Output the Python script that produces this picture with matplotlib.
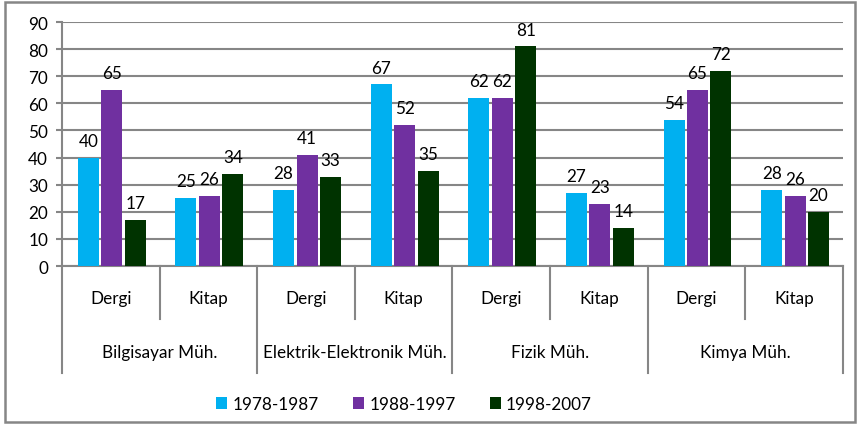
import numpy as np
import matplotlib
matplotlib.use('Agg')
import matplotlib.pyplot as plt
from matplotlib.patches import Rectangle
from matplotlib import transforms

plt.rcParams['font.family'] = ['Lato', 'DejaVu Sans']

# veriler
bolumler = ['Bilgisayar Müh.', 'Elektrik-Elektronik Müh.', 'Fizik Müh.', 'Kimya Müh.']
turler = ['Dergi', 'Kitap']
donemler = ['1978-1987', '1988-1997', '1998-2007']
v_1978 = [40, 25, 28, 67, 62, 27, 54, 28]
v_1988 = [65, 26, 41, 52, 62, 23, 65, 26]
v_1998 = [17, 34, 33, 35, 81, 14, 72, 20]
renkler = ['#00B0F0', '#7030A0', '#003300']

fs = 12.3
fig = plt.figure(figsize=(8.68, 4.27), dpi=100)
ax = fig.add_axes([62/868, 1-267/427, (843-62)/868, (267-23)/427])

x = np.arange(len(v_1978)) + 0.5
w = 0.215
off = [-0.24, 0, 0.24]
for seri, o, r, ad in zip([v_1978, v_1988, v_1998], off, renkler, donemler):
    bars = ax.bar(x + o + 0.01, seri, width=w, color=r, label=ad, zorder=3)
    for b, v in zip(bars, seri):
        ax.annotate(str(v), (b.get_x() + b.get_width()/2, v), xytext=(0, 8.5),
                    textcoords='offset points', ha='center', va='baseline',
                    fontsize=fs, color='#000000')

gri = '#868686'
ax.set_xlim(0, 8)
ax.set_ylim(0, 90)
ax.set_yticks(range(0, 91, 10))
ax.tick_params(axis='y', length=4, width=1.5, color=gri, labelsize=fs, pad=6)
ax.yaxis.grid(True, color=gri, linewidth=1.5, zorder=0)
ax.set_xticks([])
for s in ['top', 'right']:
    ax.spines[s].set_visible(False)
for s in ['left', 'bottom']:
    ax.spines[s].set_color(gri)
    ax.spines[s].set_linewidth(1.5)

# çok seviyeli kategori ekseni
tr = transforms.blended_transform_factory(ax.transData, ax.transAxes)
alt1 = -53/244
alt2 = -107/244
for i in range(9):
    y_alt = alt2 if i % 2 == 0 else alt1
    ax.plot([i, i], [0, y_alt], transform=tr, color=gri, lw=1.5, clip_on=False)
for i, xi in enumerate(x):
    ax.text(xi, -32/244, turler[i % 2], transform=tr, ha='center', va='center', fontsize=fs)
for j, b in enumerate(bolumler):
    ax.text(2*j + 1, -86/244, b, transform=tr, ha='center', va='center', fontsize=fs)

fig.legend(loc='center', bbox_to_anchor=(404/868, 1-405/427), ncol=3, frameon=False,
           fontsize=fs, handlelength=0.65, handleheight=0.65, handletextpad=0.3,
           columnspacing=2.0)

fig.patches.append(Rectangle((5/868, 4/427), 850/868, 420/427, transform=fig.transFigure,
                             fill=False, edgecolor=gri, linewidth=1.8))

fig.savefig('out.png', dpi=100)
